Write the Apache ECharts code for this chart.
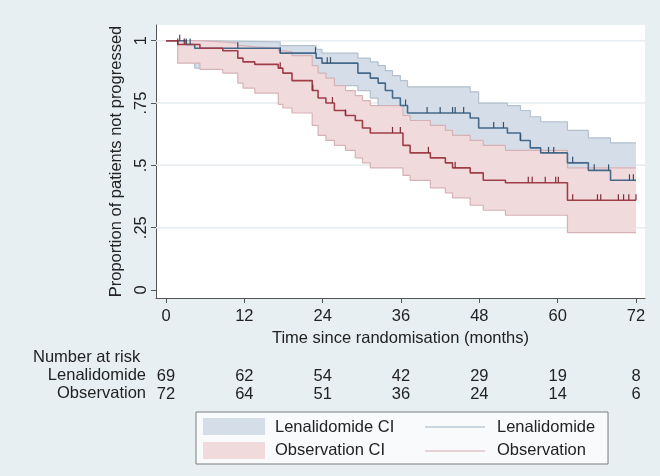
<!DOCTYPE html>
<html><head><meta charset="utf-8">
<script src="https://cdn.jsdelivr.net/npm/echarts@6/dist/echarts.min.js"></script>
<style>html,body{margin:0;padding:0;background:#e8eff2;}#c{width:660px;height:476px;}</style>
</head><body><div id="c"></div>
<script>
// Axis ticks
const xTicks = [0, 12, 24, 36, 48, 60, 72];
const yTicks = [0, 0.25, 0.5, 0.75, 1];
const yTickLabels = ['0', '.25', '.5', '.75', '1'];

// Lenalidomide KM estimate with CI (months, proportion)
const lenTime  = [0, 3.1, 4.4, 17.5, 23.0, 23.9, 29.4, 31.3, 32.5, 33.6, 34.7, 35.9, 37.0, 46.6, 47.9, 52.3, 54.3, 55.8, 57.4, 61.5, 64.7, 68.1, 72];
const lenSurv  = [1, 0.985, 0.97, 0.95, 0.93, 0.91, 0.87, 0.85, 0.83, 0.80, 0.77, 0.74, 0.71, 0.69, 0.65, 0.63, 0.60, 0.57, 0.55, 0.51, 0.48, 0.44, 0.44];
const lenUpper = [1, 1, 0.995, 0.98, 0.965, 0.95, 0.93, 0.915, 0.90, 0.88, 0.86, 0.84, 0.815, 0.795, 0.75, 0.74, 0.72, 0.695, 0.675, 0.64, 0.61, 0.59, 0.59];
const lenLower = [1, 0.94, 0.89, 0.86, 0.84, 0.82, 0.80, 0.77, 0.74, 0.70, 0.67, 0.63, 0.60, 0.58, 0.53, 0.51, 0.48, 0.45, 0.43, 0.39, 0.35, 0.30, 0.30];
const lenCensor = [2.1, 3.1, 3.7, 11.0, 17.5, 22.9, 24.7, 25.2, 36.7, 40.0, 42.0, 43.9, 44.3, 45.6, 50.2, 51.7, 54.3, 58.6, 59.4, 62.3, 65.6, 67.8, 71.0, 71.6];

// Observation KM estimate with CI
const obsTime  = [0, 1.8, 5.2, 8.7, 11.0, 11.8, 13.6, 17.2, 17.9, 19.3, 22.4, 23.3, 24.5, 25.8, 27.5, 29.0, 30.1, 31.3, 36.3, 37.4, 40.5, 42.8, 43.9, 46.6, 48.6, 52.0, 61.5, 72];
const obsSurv  = [1, 0.985, 0.97, 0.96, 0.93, 0.915, 0.905, 0.89, 0.87, 0.84, 0.80, 0.77, 0.75, 0.72, 0.70, 0.68, 0.65, 0.63, 0.58, 0.55, 0.53, 0.51, 0.49, 0.47, 0.44, 0.43, 0.36, 0.36];
const obsUpper = [1, 1, 0.995, 0.99, 0.98, 0.975, 0.97, 0.96, 0.955, 0.94, 0.90, 0.87, 0.85, 0.82, 0.80, 0.78, 0.76, 0.74, 0.70, 0.68, 0.66, 0.64, 0.62, 0.60, 0.58, 0.56, 0.49, 0.49];
const obsLower = [1, 0.91, 0.885, 0.87, 0.83, 0.81, 0.79, 0.745, 0.73, 0.71, 0.66, 0.62, 0.60, 0.58, 0.56, 0.53, 0.51, 0.49, 0.46, 0.44, 0.41, 0.39, 0.37, 0.34, 0.32, 0.30, 0.23, 0.23];
const obsCensor = [1.8, 2.8, 17.5, 22.5, 25.5, 27.5, 34.7, 35.9, 40.2, 44.3, 55.5, 56.1, 58.1, 59.7, 60.1, 62.3, 66.1, 66.6, 69.3, 70.1, 70.9, 72.0];

// Number at risk
const riskLen = [69, 62, 54, 42, 29, 19, 8];
const riskObs = [72, 64, 51, 36, 24, 14, 6];

const FONT = 'Liberation Sans, Arial, Helvetica, sans-serif';
const FS = 16.5;
const C = {
  blueLine: '#44698a', redLine: '#a03e48',
  blueFill: '#d5dde8', redFill: '#f1dadc',
  blueEdge: '#b3c0cd', redEdge: '#d6b2b6',
  axis: '#555', text: '#222'
};

function stepAt(times, vals, t) {
  let v = vals[0];
  for (let i = 0; i < times.length; i++) { if (times[i] <= t) v = vals[i]; else break; }
  return v;
}
function pairs(times, vals) { return times.map((t, i) => [t, vals[i]]); }

function bandSeries(times, up, lo, fill, opacity, z) {
  return {
    type: 'custom', z: z, silent: true, data: [[0, 0]],
    renderItem: function (params, api) {
      const pts = [];
      for (let i = 0; i < times.length; i++) {
        if (i > 0) pts.push(api.coord([times[i], up[i - 1]]));
        pts.push(api.coord([times[i], up[i]]));
      }
      for (let i = times.length - 1; i >= 0; i--) {
        pts.push(api.coord([times[i], lo[i]]));
        if (i > 0) pts.push(api.coord([times[i], lo[i - 1]]));
      }
      return { type: 'polygon', shape: { points: pts }, style: { fill: fill, opacity: opacity } };
    }
  };
}
function stepLine(times, vals, color, width, z) {
  return { type: 'line', step: 'end', symbol: 'none', silent: true, z: z,
    data: pairs(times, vals), lineStyle: { color: color, width: width } };
}
function censorSeries(cens, times, vals, color, z) {
  return {
    type: 'custom', z: z, silent: true,
    data: cens.map(t => [t, stepAt(times, vals, t)]),
    renderItem: function (params, api) {
      const p = api.coord([api.value(0), api.value(1)]);
      return { type: 'line', shape: { x1: p[0], y1: p[1], x2: p[0], y2: p[1] - 6 },
        style: { stroke: color, lineWidth: 1.2 } };
    }
  };
}
const gridLines = {
  type: 'custom', z: 1, silent: true,
  data: yTicks.filter(v => v > 0).map(v => [0, v]),
  renderItem: function (params, api) {
    const cs = params.coordSys;
    const y = api.coord([0, api.value(1)])[1];
    return { type: 'line', shape: { x1: cs.x, y1: y, x2: cs.x + cs.width, y2: y },
      style: { stroke: '#e6ecef', lineWidth: 1.5 } };
  }
};

const XMIN = -1.53, XMAX = 73.38;
function riskAxis(arr, offset) {
  return {
    type: 'value', gridIndex: 0, min: XMIN, max: XMAX, position: 'bottom', offset: offset,
    axisLine: { show: false }, axisTick: { show: false }, splitLine: { show: false },
    axisLabel: { customValues: xTicks, fontSize: FS, color: C.text, fontFamily: FONT, margin: 10,
      formatter: v => String(arr[xTicks.indexOf(v)]) }
  };
}

const chart = echarts.init(document.getElementById('c'), null, { renderer: 'canvas' });
chart.setOption({
  animation: false,
  backgroundColor: '#e8eff2',
  textStyle: { fontFamily: FONT },
  grid: { left: 156, right: 15, top: 25, bottom: 178, show: true, backgroundColor: '#ffffff', borderWidth: 0 },
  xAxis: [
    {
      type: 'value', min: XMIN, max: XMAX, position: 'bottom',
      name: 'Time since randomisation (months)', nameLocation: 'middle', nameGap: 32,
      nameTextStyle: { fontSize: FS, color: C.text, fontFamily: FONT },
      axisLine: { show: true, onZero: false, lineStyle: { color: C.axis, width: 1 } },
      axisTick: { show: true, customValues: xTicks, length: 5, lineStyle: { color: C.axis } },
      axisLabel: { customValues: xTicks, fontSize: FS, color: C.text, fontFamily: FONT, margin: 10 },
      splitLine: { show: false }
    },
    riskAxis(riskLen, 60),
    riskAxis(riskObs, 78)
  ],
  yAxis: {
    type: 'value', min: -0.032, max: 1.063,
    name: 'Proportion of patients not progressed', nameLocation: 'middle', nameGap: 30,
    nameTextStyle: { fontSize: FS, color: C.text, fontFamily: FONT },
    axisLine: { show: true, onZero: false, lineStyle: { color: C.axis, width: 1 } },
    axisTick: { show: true, customValues: yTicks, length: 5, lineStyle: { color: C.axis } },
    axisLabel: { customValues: yTicks, rotate: 90, fontSize: FS, color: C.text, fontFamily: FONT, margin: 6,
      formatter: v => yTickLabels[yTicks.indexOf(v)] },
    splitLine: { show: false }
  },
  series: [
    gridLines,
    bandSeries(lenTime, lenUpper, lenLower, C.blueFill, 1, 2),
    stepLine(lenTime, lenUpper, C.blueEdge, 1.2, 3),
    stepLine(lenTime, lenLower, C.blueEdge, 1.2, 3),
    bandSeries(obsTime, obsUpper, obsLower, C.redFill, 1, 4),
    stepLine(obsTime, obsUpper, C.redEdge, 1.2, 5),
    stepLine(obsTime, obsLower, C.redEdge, 1.2, 5),
    stepLine(lenTime, lenSurv, C.blueLine, 1.6, 6),
    stepLine(obsTime, obsSurv, C.redLine, 1.6, 6),
    censorSeries(lenCensor, lenTime, lenSurv, '#33526c', 7),
    censorSeries(obsCensor, obsTime, obsSurv, '#7e2e37', 7)
  ],
  graphic: [
    { type: 'text', left: 33, top: 349, style: { text: 'Number at risk', font: FS + 'px ' + FONT, fill: C.text } },
    { type: 'text', right: 660 - 146, top: 367, style: { text: 'Lenalidomide', font: FS + 'px ' + FONT, fill: C.text } },
    { type: 'text', right: 660 - 146, top: 385, style: { text: 'Observation', font: FS + 'px ' + FONT, fill: C.text } },
    { type: 'rect', shape: { x: 196, y: 412, width: 412, height: 52 }, style: { fill: '#f8fafb', stroke: '#7c7c7c', lineWidth: 1 } },
    { type: 'rect', shape: { x: 203, y: 418, width: 62, height: 17 }, style: { fill: C.blueFill } },
    { type: 'rect', shape: { x: 203, y: 442, width: 62, height: 17 }, style: { fill: C.redFill } },
    { type: 'text', left: 275, top: 419, style: { text: 'Lenalidomide CI', font: FS + 'px ' + FONT, fill: C.text } },
    { type: 'text', left: 275, top: 442, style: { text: 'Observation CI', font: FS + 'px ' + FONT, fill: C.text } },
    { type: 'line', shape: { x1: 425, y1: 427, x2: 485, y2: 427 }, style: { stroke: '#9fb1c2', lineWidth: 1.2 } },
    { type: 'line', shape: { x1: 425, y1: 451, x2: 485, y2: 451 }, style: { stroke: '#d2a9ad', lineWidth: 1.2 } },
    { type: 'text', left: 497, top: 419, style: { text: 'Lenalidomide', font: FS + 'px ' + FONT, fill: C.text } },
    { type: 'text', left: 497, top: 442, style: { text: 'Observation', font: FS + 'px ' + FONT, fill: C.text } }
  ]
});
</script></body></html>
